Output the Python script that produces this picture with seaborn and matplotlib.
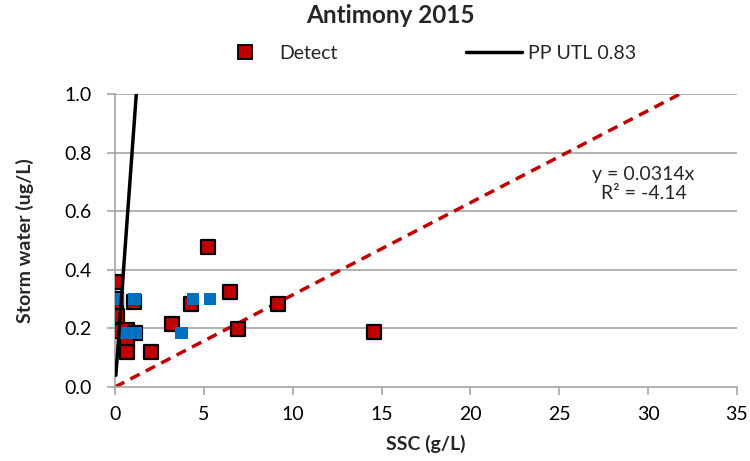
import matplotlib.pyplot as plt
import pandas as pd
import seaborn as sns
from matplotlib.lines import Line2D

# detects (red squares)
detect_ssc = [0.05, 0.05, 0.05, 0.1, 0.0, 0.7, 1.1, 0.7, 0.7, 1.07,
              2.0, 3.2, 4.3, 5.25, 6.5, 6.95, 9.2, 14.6]
detect_sw = [0.36, 0.30, 0.28, 0.243, 0.19, 0.195, 0.185, 0.155, 0.12, 0.29,
             0.12, 0.215, 0.283, 0.478, 0.325, 0.198, 0.283, 0.188]
# non-detects (blue squares)
nd_ssc = [0.17, 1.1, 0.45, 0.85, 1.2, 3.75, 4.4, 5.35]
nd_sw = [0.30, 0.30, 0.185, 0.185, 0.185, 0.185, 0.30, 0.30]
# lines
utl_x = [0.05, 1.2]
utl_y = [0.04, 1.0]
trend_x = [0.0, 31.8]
trend_y = [0.0, 1.0]

x_ticks = [0, 5, 10, 15, 20, 25, 30, 35]
y_ticks = [0.0, 0.2, 0.4, 0.6, 0.8, 1.0]

sns.set_theme(style="white")
plt.rcParams["font.family"] = ["Lato", "DejaVu Sans"]

df_det = pd.DataFrame({"ssc": detect_ssc, "sw": detect_sw})
df_nd = pd.DataFrame({"ssc": nd_ssc, "sw": nd_sw})

fig = plt.figure(figsize=(7.5, 4.61), dpi=100)
ax = fig.add_axes([0.1533, 0.1605, 0.8293, 0.6356])

grid_c = "#A6A6A6"
fs = 14
for yv in y_ticks[1:]:
    ax.axhline(yv, color=grid_c, lw=1.2, zorder=0)

ax.plot(trend_x, trend_y, color="#C00000", lw=2.5, ls=(0, (3, 2)), zorder=2)

sns.scatterplot(data=df_det, x="ssc", y="sw", ax=ax, marker="s", s=110,
                color="#C00000", edgecolor="black", linewidth=1.6, zorder=3)
sns.scatterplot(data=df_nd, x="ssc", y="sw", ax=ax, marker="s", s=78,
                color="#0070C0", edgecolor="none", linewidth=0, zorder=4)

# UTL line sits on top of the markers
ax.plot(utl_x, utl_y, color="black", lw=2.5, zorder=5)

ax.set_xlim(0, 35)
ax.set_ylim(0, 1.0)
ax.set_xticks(x_ticks)
ax.set_yticks(y_ticks)
ax.set_xticklabels([str(v) for v in x_ticks])
ax.set_yticklabels([f"{v:.1f}" for v in y_ticks])
for side in ["top", "right"]:
    ax.spines[side].set_visible(False)
for side in ["left", "bottom"]:
    ax.spines[side].set_color(grid_c)
    ax.spines[side].set_linewidth(1.2)
ax.tick_params(axis="both", direction="out", length=5.5, width=1.2, color=grid_c,
               labelsize=fs, labelcolor="black")
ax.tick_params(axis="x", pad=8)
ax.tick_params(axis="y", pad=11)
ax.tick_params(left=True, bottom=True)

ax.set_xlabel("SSC (g/L)", fontsize=fs, fontweight="bold")
ax.set_ylabel("Storm water (ug/L)", fontsize=fs, fontweight="bold")
ax.xaxis.set_label_coords(0.5, -0.165)
ax.yaxis.set_label_coords(-0.13, 0.5)

ax.text(0.850, 0.693, "y = 0.0314x\nR² = -4.14", transform=ax.transAxes,
        ha="center", va="center", fontsize=fs, linespacing=1.1)

fig.text(0.521, 0.966, "Antimony 2015", ha="center", va="center",
         fontsize=17.5, fontweight="bold")

handles = [
    Line2D([], [], marker="s", ls="none", markersize=10, markerfacecolor="#C00000",
           markeredgecolor="black", markeredgewidth=1.3),
    Line2D([], [], color="black", lw=2.5),
]
fig.legend(handles, ["Detect", "PP UTL 0.83"], loc="center", ncol=2,
           bbox_to_anchor=(0.569, 0.885), frameon=False, fontsize=fs,
           columnspacing=6.6, handlelength=2.9, handletextpad=0.3)

fig.savefig("out.png", dpi=100)
